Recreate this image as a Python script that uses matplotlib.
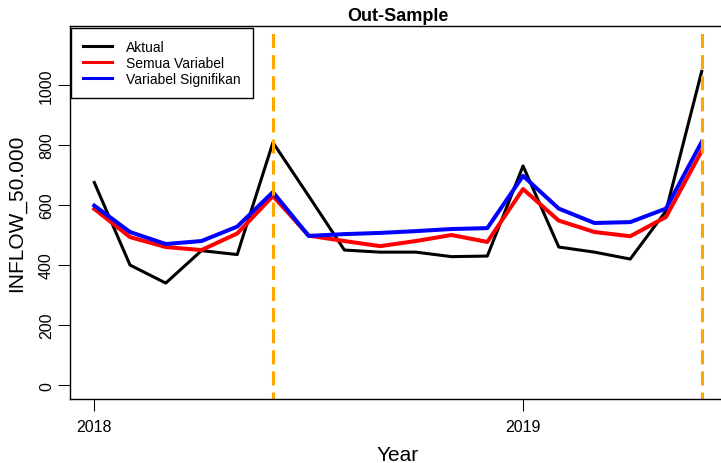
import matplotlib.pyplot as plt

plt.rcParams['font.family'] = ['Liberation Sans', 'DejaVu Sans']

# monthly out-sample period, Jan 2018 - Jun 2019
months = list(range(18))
aktual = [675, 400, 340, 448, 435, 808, 630, 450, 443, 443, 428, 430, 730, 460, 443, 420, 580, 1045]
semua_variabel = [587, 493, 460, 450, 505, 630, 498, 480, 463, 480, 500, 477, 653, 548, 510, 496, 560, 780]
variabel_signifikan = [598, 510, 470, 480, 528, 643, 497, 503, 507, 513, 520, 523, 697, 588, 540, 543, 588, 810]
breaks = [5, 17]
year_ticks = [2018, 2019]
y_ticks = [0, 200, 400, 600, 800, 1000]

x = [2018 + m / 12 for m in months]

fig = plt.figure(figsize=(7.21, 4.64), dpi=100)
ax = fig.add_axes([70 / 721, 64 / 464, 656 / 721, 373 / 464])

ax.plot(x, aktual, color='black', lw=2.2, label='Aktual')
ax.plot(x, semua_variabel, color='red', lw=2.9, label='Semua Variabel')
ax.plot(x, variabel_signifikan, color='blue', lw=2.9, label='Variabel Signifikan')

for b in breaks:
    ax.axvline(2018 + b / 12, color='orange', lw=2.2, linestyle=(2.3, (4.6, 2.3)))

# R-style 4% padding around the data range
span = 17 / 12
ax.set_xlim(2018 - 0.04 * span, 2018 + 17 / 12 + 0.04 * span)
ax.set_ylim(0 - 0.04 * 1150, 1150 + 0.04 * 1150)

ax.set_xticks(year_ticks)
ax.set_xticklabels([str(y) for y in year_ticks])
ax.set_yticks(y_ticks)
ax.set_yticklabels([str(v) for v in y_ticks], rotation=90, va='center')
ax.tick_params(axis='both', direction='out', length=8.6, width=0.75, labelsize=11.5)
ax.tick_params(axis='y', pad=3.0)
ax.tick_params(axis='x', pad=5.8)

for s in ax.spines.values():
    s.set_color('black')
    s.set_linewidth(1.0)

ax.set_title('Out-Sample', fontsize=13, fontweight='bold', pad=4.5)
ax.set_xlabel('Year', fontsize=15)
ax.set_ylabel('INFLOW_50.000', fontsize=15)
ax.xaxis.set_label_coords(0.5, -0.123)
ax.yaxis.set_label_coords(-0.067, 0.5)

leg = ax.legend(loc='upper left', bbox_to_anchor=(0.002, 0.995), borderaxespad=0,
                fontsize=10, fancybox=False, framealpha=1, edgecolor='black',
                handlelength=2.1, handletextpad=1.0, labelspacing=0.15,
                borderpad=0.85)
leg.get_frame().set_linewidth(1.0)
# legend keys drawn thinner than the plotted lines
for h in leg.get_lines():
    h.set_linewidth(2.2)

fig.savefig('out.png', dpi=100)
